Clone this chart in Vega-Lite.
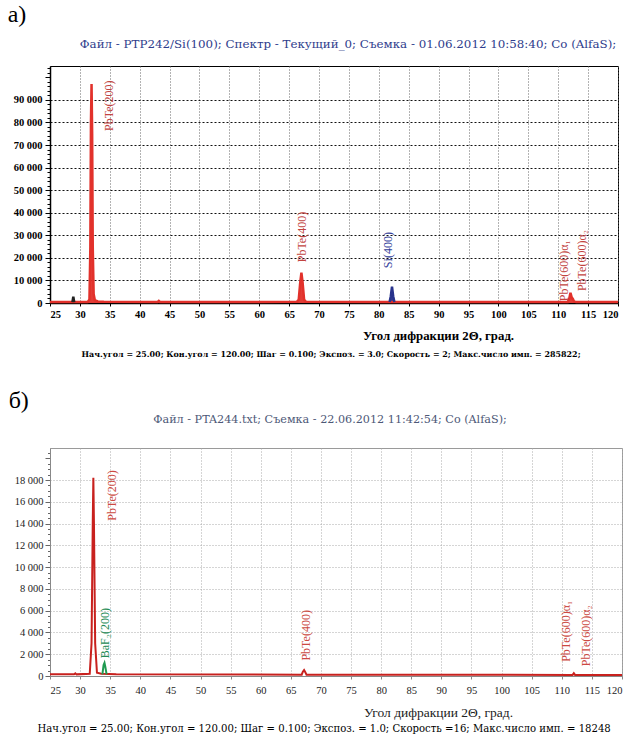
{
  "$schema": "https://vega.github.io/schema/vega-lite/v6.json",
  "background": "white",
  "padding": {"left": 7, "top": 2, "right": 5, "bottom": 0},
  "spacing": 30,
  "config": {
    "view": {"stroke": "black", "strokeWidth": 1},
    "title": {"font": "Liberation Serif", "fontWeight": "normal", "color": "black"},
    "axis": {"labelFont": "Liberation Serif", "titleFont": "Liberation Serif", "labelOverlap": false, "labelBound": false}
  },
  "datasets": {
    "traceA": [
      {"angle": 25, "counts": 400, "series": "PbTe"},
      {"angle": 28.6, "counts": 420, "series": "PbTe"},
      {"angle": 31.3, "counts": 450, "series": "PbTe"},
      {"angle": 31.6, "counts": 1500, "series": "PbTe"},
      {"angle": 31.75, "counts": 25000, "series": "PbTe"},
      {"angle": 31.85, "counts": 80000, "series": "PbTe"},
      {"angle": 31.95, "counts": 97000, "series": "PbTe"},
      {"angle": 32.05, "counts": 75000, "series": "PbTe"},
      {"angle": 32.15, "counts": 25000, "series": "PbTe"},
      {"angle": 32.3, "counts": 4000, "series": "PbTe"},
      {"angle": 32.5, "counts": 1200, "series": "PbTe"},
      {"angle": 33, "counts": 700, "series": "PbTe"},
      {"angle": 34, "counts": 500, "series": "PbTe"},
      {"angle": 43, "counts": 450, "series": "PbTe"},
      {"angle": 43.2, "counts": 900, "series": "PbTe"},
      {"angle": 43.4, "counts": 450, "series": "PbTe"},
      {"angle": 66.3, "counts": 500, "series": "PbTe"},
      {"angle": 66.6, "counts": 1500, "series": "PbTe"},
      {"angle": 66.85, "counts": 9000, "series": "PbTe"},
      {"angle": 67.05, "counts": 13500, "series": "PbTe"},
      {"angle": 67.25, "counts": 9000, "series": "PbTe"},
      {"angle": 67.5, "counts": 1500, "series": "PbTe"},
      {"angle": 67.8, "counts": 500, "series": "PbTe"},
      {"angle": 81.7, "counts": 400, "series": "PbTe"},
      {"angle": 82.7, "counts": 400, "series": "PbTe"},
      {"angle": 111.6, "counts": 450, "series": "PbTe"},
      {"angle": 111.85, "counts": 2000, "series": "PbTe"},
      {"angle": 112.05, "counts": 4500, "series": "PbTe"},
      {"angle": 112.25, "counts": 2500, "series": "PbTe"},
      {"angle": 112.45, "counts": 1800, "series": "PbTe"},
      {"angle": 112.65, "counts": 700, "series": "PbTe"},
      {"angle": 113, "counts": 400, "series": "PbTe"},
      {"angle": 120, "counts": 400, "series": "PbTe"},
      {"angle": 28.75, "counts": 400, "series": "misc"},
      {"angle": 28.9, "counts": 2800, "series": "misc"},
      {"angle": 29.05, "counts": 400, "series": "misc"},
      {"angle": 81.8, "counts": 400, "series": "Si"},
      {"angle": 82.0, "counts": 3000, "series": "Si"},
      {"angle": 82.2, "counts": 7200, "series": "Si"},
      {"angle": 82.4, "counts": 3000, "series": "Si"},
      {"angle": 82.6, "counts": 400, "series": "Si"}
    ],
    "labelsA": [
      {"angle": 34.9, "counts": 98600, "label": "PbTe(200)", "kind": "PbTe"},
      {"angle": 67.1, "counts": 40400, "label": "PbTe(400)", "kind": "PbTe"},
      {"angle": 81.6, "counts": 31400, "label": "Si(400)", "kind": "Si"},
      {"angle": 111.0, "counts": 27800, "label": "PbTe(600)α₁", "kind": "PbTe"},
      {"angle": 114.0, "counts": 32300, "label": "PbTe(600)α₂", "kind": "PbTe"}
    ],
    "traceB": [
      {"angle": 25, "counts": 150, "series": "PbTe"},
      {"angle": 29, "counts": 150, "series": "PbTe"},
      {"angle": 29.2, "counts": 250, "series": "PbTe"},
      {"angle": 29.4, "counts": 150, "series": "PbTe"},
      {"angle": 31.6, "counts": 200, "series": "PbTe"},
      {"angle": 31.9, "counts": 3000, "series": "PbTe"},
      {"angle": 32.1, "counts": 14000, "series": "PbTe"},
      {"angle": 32.2, "counts": 18200, "series": "PbTe"},
      {"angle": 32.3, "counts": 14000, "series": "PbTe"},
      {"angle": 32.5, "counts": 3000, "series": "PbTe"},
      {"angle": 32.8, "counts": 300, "series": "PbTe"},
      {"angle": 33.5, "counts": 200, "series": "PbTe"},
      {"angle": 36, "counts": 150, "series": "PbTe"},
      {"angle": 66.8, "counts": 120, "series": "PbTe"},
      {"angle": 67.0, "counts": 400, "series": "PbTe"},
      {"angle": 67.2, "counts": 550, "series": "PbTe"},
      {"angle": 67.4, "counts": 350, "series": "PbTe"},
      {"angle": 67.6, "counts": 120, "series": "PbTe"},
      {"angle": 111.8, "counts": 100, "series": "PbTe"},
      {"angle": 112.0, "counts": 250, "series": "PbTe"},
      {"angle": 112.2, "counts": 100, "series": "PbTe"},
      {"angle": 120, "counts": 100, "series": "PbTe"},
      {"angle": 33.7, "counts": 150, "series": "BaF2"},
      {"angle": 33.9, "counts": 1000, "series": "BaF2"},
      {"angle": 34.05, "counts": 1200, "series": "BaF2"},
      {"angle": 34.2, "counts": 800, "series": "BaF2"},
      {"angle": 34.4, "counts": 150, "series": "BaF2"}
    ],
    "labelsB": [
      {"angle": 35.3, "counts": 18900, "label": "PbTe(200)", "kind": "PbTe"},
      {"angle": 34.1, "counts": 6240, "label": "BaF₂(200)", "kind": "BaF2"},
      {"angle": 67.5, "counts": 6050, "label": "PbTe(400)", "kind": "PbTe"},
      {"angle": 110.7, "counts": 6900, "label": "PbTe(600)α₁", "kind": "PbTe"},
      {"angle": 114.0, "counts": 6500, "label": "PbTe(600)α₂", "kind": "PbTe"}
    ]
  },
  "vconcat": [
    {
      "title": {"text": "а)", "anchor": "start", "fontSize": 24, "offset": 12, "dx": -5},
      "vconcat": [
        {
          "title": {"text": "Нач.угол = 25.00; Кон.угол = 120.00; Шаг = 0.100; Экспоз. = 3.0; Скорость =    2; Макс.число имп. = 285822;", "orient": "bottom", "anchor": "middle", "font": "DejaVu Serif", "fontSize": 7.95, "fontWeight": "bold", "offset": 8, "dx": 13},
          "vconcat": [
            {
              "title": {"text": "Файл - PTP242/Si(100); Спектр - Текущий_0; Съемка - 01.06.2012 10:58:40; Co (AlfaS);", "color": "#2e3c8c", "font": "DejaVu Serif", "fontSize": 11.85, "offset": 12, "dx": 14},
              "width": 568,
              "height": 237,
              "resolve": {"scale": {"color": "independent"}},
              "encoding": {
                "x": {"field": "angle", "type": "quantitative", "scale": {"domain": [25, 120], "nice": false, "zero": false},
                  "axis": {"values": [25,30,35,40,45,50,55,60,65,70,75,80,85,90,95,100,105,110,115,120], "labelFontWeight": "bold", "labelFontSize": 10.5, "labelColor": "black", "tickColor": "black", "tickSize": 3, "domainColor": "black", "domainWidth": 1.5, "grid": true, "gridDash": [1, 2], "gridColor": "#666", "gridOpacity": 1, "title": "Угол дифракции 2Θ, град.", "titleFontSize": 12.8, "titleFontWeight": "bold", "titleColor": "black", "titleX": 388, "titleAlign": "center", "titlePadding": 10, "labelPadding": 3}},
                "y": {"field": "counts", "type": "quantitative", "stack": null, "scale": {"domain": [0, 105000], "nice": false},
                  "axis": {"values": [0,2000,4000,6000,8000,10000,12000,14000,16000,18000,20000,22000,24000,26000,28000,30000,32000,34000,36000,38000,40000,42000,44000,46000,48000,50000,52000,54000,56000,58000,60000,62000,64000,66000,68000,70000,72000,74000,76000,78000,80000,82000,84000,86000,88000,90000,92000,94000,96000,98000,100000,102000,104000],
                    "labelExpr": "datum.value % 10000 === 0 && datum.value <= 90000 ? replace(format(datum.value, ','), ',', ' ') : ''",
                    "labelFontWeight": "bold", "labelFontSize": 10.5, "labelColor": "black", "domainColor": "black", "domainWidth": 1.5, "tickColor": "black",
                    "tickSize": {"condition": {"test": "datum.value % 10000 === 0", "value": 5}, "value": 3},
                    "grid": true, "gridDash": [2, 2], "gridColor": "#111",
                    "gridOpacity": {"condition": {"test": "datum.value % 10000 === 0 && datum.value > 0 && datum.value <= 90000", "value": 1}, "value": 0},
                    "title": null, "labelPadding": 3}}
              },
              "layer": [
                {
                  "data": {"name": "traceA"},
                  "mark": {"type": "area", "opacity": 0.95},
                  "encoding": {
                    "detail": {"field": "series"},
                    "color": {"field": "series", "type": "nominal", "scale": {"domain": ["PbTe", "Si", "misc"], "range": ["#e2312b", "#28338c", "#222222"]}, "legend": null}
                  }
                },
                {
                  "data": {"name": "traceA"},
                  "mark": {"type": "line", "strokeWidth": 2.5},
                  "encoding": {
                    "detail": {"field": "series"},
                    "color": {"field": "series", "type": "nominal", "scale": {"domain": ["PbTe", "Si", "misc"], "range": ["#e2312b", "#28338c", "#222222"]}, "legend": null}
                  }
                },
                {
                  "data": {"name": "labelsA"},
                  "mark": {"type": "text", "angle": 270, "align": "right", "baseline": "middle", "font": "Liberation Serif", "fontSize": 12},
                  "encoding": {
                    "text": {"field": "label"},
                    "color": {"field": "kind", "type": "nominal", "scale": {"domain": ["PbTe", "Si"], "range": ["#c2443f", "#33409a"]}, "legend": null}
                  }
                }
              ]
            }
          ]
        }
      ]
    },
    {
      "title": {"text": "б)", "anchor": "start", "fontSize": 24, "offset": 0, "dx": -5},
      "vconcat": [
        {
          "title": {"text": "Нач.угол = 25.00; Кон.угол = 120.00; Шаг = 0.100; Экспоз. = 1.0; Скорость =16; Макс.число имп. = 18248", "orient": "bottom", "anchor": "middle", "font": "DejaVu Serif", "fontSize": 10.1, "offset": 4, "dx": 4},
          "vconcat": [
            {
              "title": {"text": "Файл - PTA244.txt; Съемка - 22.06.2012 11:42:54; Co (AlfaS);", "color": "#4d5877", "font": "DejaVu Serif", "fontSize": 11.2, "offset": 23, "dx": -6},
              "width": 572,
              "height": 228,
              "view": {"stroke": "#9a9a9a"},
              "resolve": {"scale": {"color": "independent"}},
              "encoding": {
                "x": {"field": "angle", "type": "quantitative", "scale": {"domain": [25, 120], "nice": false, "zero": false},
                  "axis": {"values": [25,30,35,40,45,50,55,60,65,70,75,80,85,90,95,100,105,110,115,120], "labelFontSize": 10.5, "labelColor": "#222", "tickColor": "#888", "tickSize": 3, "domainColor": "#888", "grid": true, "gridDash": [1, 2], "gridColor": "#aaa", "title": "Угол дифракции 2Θ, град.", "titleFontSize": 13.5, "titleFontWeight": "normal", "titleColor": "#222", "titleX": 388, "titleAlign": "center", "titlePadding": 10, "labelPadding": 6}},
                "y": {"field": "counts", "type": "quantitative", "scale": {"domain": [0, 20940], "nice": false},
                  "axis": {"values": [0,500,1000,1500,2000,2500,3000,3500,4000,4500,5000,5500,6000,6500,7000,7500,8000,8500,9000,9500,10000,10500,11000,11500,12000,12500,13000,13500,14000,14500,15000,15500,16000,16500,17000,17500,18000,18500,19000,19500,20000,20500],
                    "labelExpr": "datum.value % 2000 === 0 && datum.value <= 18000 ? replace(format(datum.value, ','), ',', ' ') : ''",
                    "labelFontSize": 10.5, "labelColor": "#222", "domainColor": "#888", "tickColor": "#666",
                    "tickSize": {"condition": {"test": "datum.value % 2000 === 0", "value": 5}, "value": 2.5},
                    "grid": true, "gridDash": [1, 2], "gridColor": "#aaa",
                    "gridOpacity": {"condition": {"test": "datum.value % 2000 === 0 && datum.value > 0 && datum.value <= 18000", "value": 1}, "value": 0},
                    "title": null, "labelPadding": 2}}
              },
              "layer": [
                {
                  "data": {"name": "traceB"},
                  "mark": {"type": "line", "strokeWidth": 2},
                  "encoding": {
                    "detail": {"field": "series"},
                    "color": {"field": "series", "type": "nominal", "scale": {"domain": ["PbTe", "BaF2"], "range": ["#c8211e", "#1f9a50"]}, "legend": null}
                  }
                },
                {
                  "data": {"name": "labelsB"},
                  "mark": {"type": "text", "angle": 270, "align": "right", "baseline": "middle", "font": "Liberation Serif", "fontSize": 12},
                  "encoding": {
                    "text": {"field": "label"},
                    "color": {"field": "kind", "type": "nominal", "scale": {"domain": ["PbTe", "BaF2"], "range": ["#cc4a42", "#238a55"]}, "legend": null}
                  }
                }
              ]
            }
          ]
        }
      ]
    }
  ]
}
